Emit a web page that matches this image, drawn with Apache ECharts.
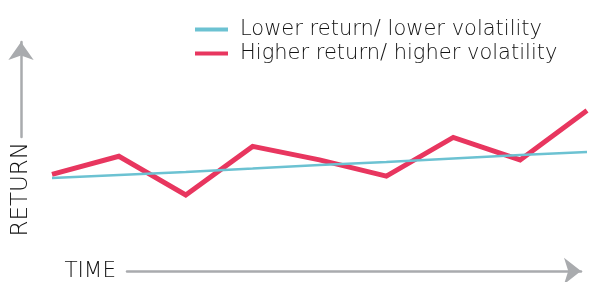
<!DOCTYPE html>
<html>
<head>
<meta charset="utf-8">
<script src="https://cdn.jsdelivr.net/npm/echarts@6/dist/echarts.min.js"></script>
<style>
  html, body { margin: 0; padding: 0; background: #fff; }
  #chart { width: 589px; height: 282px; }
</style>
</head>
<body>
<div id="chart"></div>
<script>
// periods along the time axis (unlabelled in the picture)
const periods = ['1', '2', '3', '4', '5', '6', '7', '8', '9']

// return values on a 0-100 scale
const higherVolatility = [36.5, 46.5, 25, 52, 44.5, 35.5, 57, 44.5, 72]
const lowerVolatility = [34.4, 36.1, 37.8, 39.7, 41.7, 43.3, 45.3, 47.2, 48.9]

const seriesNames = ['Lower return/ lower volatility', 'Higher return/ higher volatility']

const axisGrey = '#a9abae'
const textColor = '#111'
const fontFamily = '"DejaVu Sans", "Open Sans", sans-serif'

const chart = echarts.init(document.getElementById('chart'))

const option = {
  animation: false,
  backgroundColor: '#fff',
  legend: {
    data: seriesNames,
    orient: 'vertical',
    left: 190,
    top: 14,
    itemWidth: 33,
    itemHeight: 4,
    itemGap: 3,
    icon: 'rect',
    textStyle: {
      color: textColor,
      fontFamily: fontFamily,
      fontWeight: 200,
      fontSize: 21,
      padding: [0, 0, 0, 7]
    }
  },
  grid: [
    // plot area
    { left: 52, right: 2, top: 60, bottom: 42 },
    // time arrow
    { left: 127, right: 8, top: 200, bottom: 7 },
    // return arrow
    { left: 21, width: 10, top: 42, bottom: 145 }
  ],
  xAxis: [
    {
      type: 'category',
      gridIndex: 0,
      boundaryGap: false,
      data: periods,
      show: false
    },
    {
      type: 'category',
      gridIndex: 1,
      data: [],
      name: 'TIME',
      nameLocation: 'start',
      nameGap: 11,
      nameTextStyle: {
        color: textColor,
        fontFamily: fontFamily,
        fontWeight: 200,
        fontSize: 21.5,
        verticalAlign: 'middle'
      },
      axisLine: {
        symbol: ['none', 'arrow'],
        symbolSize: [20, 17],
        lineStyle: { color: axisGrey, width: 2.5 }
      },
      axisTick: { show: false },
      axisLabel: { show: false },
      splitLine: { show: false }
    },
    {
      type: 'value',
      gridIndex: 2,
      show: false
    }
  ],
  yAxis: [
    {
      type: 'value',
      gridIndex: 0,
      min: 0,
      max: 100,
      show: false
    },
    {
      type: 'value',
      gridIndex: 1,
      show: false
    },
    {
      type: 'category',
      gridIndex: 2,
      data: [],
      position: 'left',
      name: 'RETURN',
      nameLocation: 'start',
      nameRotate: 90,
      nameGap: 5,
      nameTextStyle: {
        color: textColor,
        fontFamily: fontFamily,
        fontWeight: 200,
        fontSize: 23
      },
      axisLine: {
        symbol: ['none', 'arrow'],
        symbolSize: [19, 18],
        lineStyle: { color: axisGrey, width: 2.5 }
      },
      axisTick: { show: false },
      axisLabel: { show: false },
      splitLine: { show: false }
    }
  ],
  series: [
    {
      name: seriesNames[1],
      type: 'line',
      xAxisIndex: 0,
      yAxisIndex: 0,
      data: higherVolatility,
      showSymbol: false,
      symbol: 'none',
      color: '#e8365f',
      lineStyle: { color: '#e8365f', width: 5, join: 'miter' },
      z: 2
    },
    {
      name: seriesNames[0],
      type: 'line',
      xAxisIndex: 0,
      yAxisIndex: 0,
      data: lowerVolatility,
      showSymbol: false,
      symbol: 'none',
      color: '#6cc2d2',
      lineStyle: { color: '#6cc2d2', width: 2.5 },
      z: 3
    }
  ]
}

chart.setOption(option)
</script>
</body>
</html>
